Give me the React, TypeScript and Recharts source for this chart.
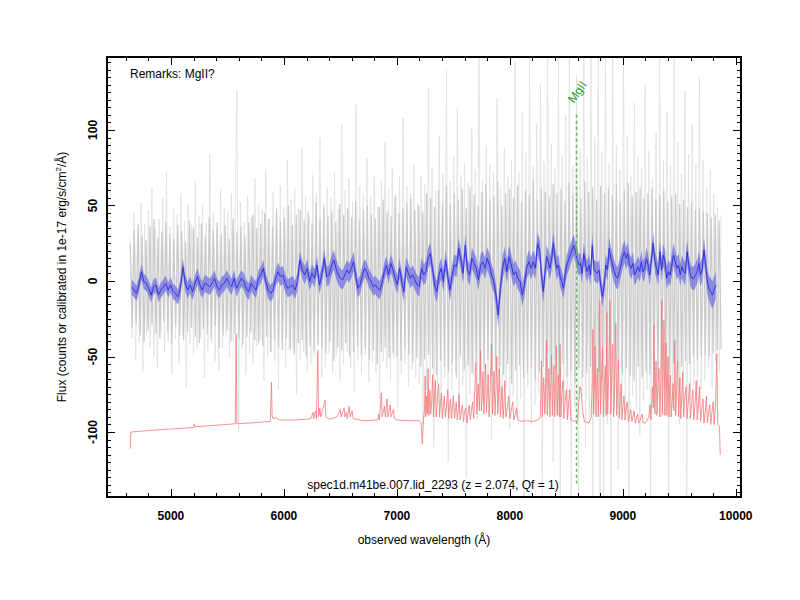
import React from "react";
import { ComposedChart, Line, Area, XAxis, YAxis, ReferenceLine } from "recharts";

const X_DOMAIN: [number, number] = [4434, 10046];
const Y_DOMAIN: [number, number] = [-143, 148.3];
const X_LABELS = [5000, 6000, 7000, 8000, 9000, 10000];
const Y_LABELS = [-100, -50, 0, 50, 100];
const MGII_WAVE = 8590;

// raw 1d flux, the faint outer grey, evenly sampled over RAW_RANGE
const RAW_RANGE = [4640, 9870];
const rawFlux = [
  28, -38, 45, -52, 33, -41, 52, -60, 38, -35, 47, -44, 62, -50, 35, -58, 41, -33, 55, -47,
  72, -40, 36, -62, 48, -39, 44, -55, 58, -36, 40, -70, 51, -42, 37, -49, 66, -45, 43, -38,
  50, -64, 39, -46, 84, -41, 45, -53, 36, -59, 61, -44, 48, -37,
  46, -51, 58, -40, 44, 126, -100, 52, -45, 39, -62, 57, -48, 42, -55, 68, -43, 50, -39, 47,
  -66, 74, -50, 41, -47, 59, -53, 45, -72, 63, -41, 49, -58, 80, -46, 54, -44, 61, -75, 48,
  -52, 88, -47, 56, -60, 43, -55, 70, -49, 58, -43, 95, -64, 51, -57, 62, -48,
  55, -61, 72, -50, 48, -66, 104, -55, 60, -47, 68, -58, 52, -73, 117, -52, 63, -62, 58, -49,
  81, -67, 56, -54, 70, -60, 49, -78, 66, -53, 92, -58, 61, -66, 74, -51, 57, -84, 69, -62,
  108, -55, 63, -70, 58, -59, 77, -64, 52, -68,
  70, -95, 64, -72, 128, -66, 75, -110, 60, -68, 96, -77, 71, -64, 140, -120, 66, -73, 82, -60,
  115, -88, 70, -69, 78, -130, 65, -75, 102, -63, 74, -92, 148, -70, 68, -80, 90, -66, 77, -105,
  72, -68, 121, -74, 63, -85, 88, -71, 69, -98,
  80, -76, 145, -90, 72, -78, 112, -143, 85, -70, 148, -95, 76, -82, 104, -74, 130, -143, 79, -88,
  148, -77, 91, -120, 75, -86, 148, -143, 83, -79, 110, -92, 148, -143, 77, -84, 136, -143, 88, -76,
  148, -110, 82, -90, 148, -143, 95, -78, 148, -143,
  86, -143, 148, -95, 78, -143, 148, -82, 90, -125, 74, -80, 148, -88, 96, -143, 70, -76, 118, -84,
  82, -102, 75, -79, 130, -72, 86, -143, 68, -81, 98, -77, 148, -90, 80, -70, 112, -143, 76, -84,
  148, -74, 92, -95, 71, -80, 126, -143, 84, -78, 104, -69, 77, -88, 135, -72, 80, -66, 62, -58,
  74, -70, 58, -55, 49, -60, 44,
];

// the denser mid-grey part of the spectrum, evenly sampled over RAW_RANGE
const coreFlux = [
  25, -31, 34, -28, 38, -36, 30, -40, 27, -33, 36, -29, 41, -35, 29, -38, 33, -27, 39, -34,
  31, -42, 28, -30, 37, -36, 33, -39, 26, -34, 40, -31, 35, -37, 29, -41, 38, -32, 30, -35,
  42, -38, 34, -30, 39, -44, 31, -36, 37, -33, 28, -40, 41, -35, 33, -38, 36, -42, 30, -37,
  39, -34, 44, -39, 35, -41,
  38, -43, 45, -37, 41, -47, 36, -40, 48, -44, 39, -46, 42, -38, 50, -45, 37, -49, 44, -41,
  47, -39, 40, -50, 46, -43, 38, -47, 52, -42, 41, -45, 49, -48, 43, -40, 46, -53, 39, -44,
  51, -46, 44, -41, 48, -50, 42, -47, 53, -43, 40, -49, 47, -45, 50, -52, 44, -46, 41, -55,
  49, -47, 54, -44, 46, -51, 43, -48, 56, -50, 45, -53, 48, -46, 52, -49, 55, -54, 47, -51,
  50, -57, 46, -52, 58, -49,
  55, -58, 49, -62, 60, -53, 52, -57, 63, -60, 51, -55, 58, -64, 54, -50, 61, -59, 48, -56,
  62, -61, 57, -54, 50, -66, 59, -58, 64, -52, 53, -63, 56, -60, 66, -57, 50, -62, 58, -55,
  61, -68, 55, -59, 63, -56, 52, -64, 60, -61, 57, -58, 67, -65, 54, -60, 62, -57, 59, -70,
  56, -62, 64, -59, 58, -66, 61, -55, 53, -63, 65, -60, 57, -68, 60, -58, 55, -64, 66, -61,
  59, -57, 62, -69, 54, -60, 63, -65, 58, -56, 61, -62, 57, -67, 64, -59, 52, -61, 60, -58,
  65, -63, 56, -66, 59, -57, 62, -64, 55, -60, 58, -62, 61, -59, 54, -65, 57, -58, 60, -56,
  53, -61, 56, -55, 58, -59, 51, -57, 54, -53, 49, -55, 52, -50, 47, -52, 48, -50, 46, -49,
  45, -50, 42, -48, 44, -46, 40, -45,
];

// smoothed flux (blue), three evenly sampled pieces
const blueA = [
  -3.8, -6, -8.2, -2.6, 6.2, -0.4, -1.5, -4.9, -9.3, -3.8,
  -2.6, -9.3, -6, -3.8, -1.5, -6, -2.6, -7, -8.2, -10.4,
  -4.9, 9.5, -1.5, -6, -2.6, -7, -1.5, 2.9, -2.6, -6,
  -1.5, -2.6, -3.8, -1.5, 1.8, -3.8, -6, -2.6, -1.5, 1.8,
  -1.5, -3.8, 1.8, -4.9, -1.5, 1.8, -0.4, -4.9, -7, -1.5,
  -3.8, -6, 1.8, 4, 8.4, -0.4, -6, -8.2, -6, 1.8,
  6.2, 2.9, 4, -1.5, -4.9, -3.8, -2.6, -6, -0.4, 13.9,
  7.3, 4, 8.4, -0.4, 5.1, 1.8, 10.6, -2.6, 4, 15,
  2.9, 4, 10.6,
];
const blueB = [
  13.9, 8.4, 4, 1.8, 0.7, 4, 7.3, 5.1, 8.4, 12.8,
  2.9, -4.9, -2.6, 4, 8.4, 6.2, 1.8, -0.4, -3.8, -2.6,
  -4.9, -6, -1.5, 6.2, 10.6, 4, 11.7, 7.3, 1.8, -2.6,
  8.4, -0.4, -7, 9.5, 5.1, 1.8, 4, 0.7, -2.6, -3.8,
  8.4, 4, 6.2, 15, 18.3, 8.4, -2.6, -7, 4, 8.4,
  -0.4, 13.9, 2.9, -6, 4, 10.6, 9.5, 21.6, 13.9, 5.1,
  23.8, 7.3, 4, 15, 11.7, 8.4, 0.7, 10.6, 12.8, 8.4,
  15, 10.6, 4, -0.4, -9.3, -22.5, -4.9, 8.4, 15, 6.2,
  16.1, 10.6, 4, 6.2, 1.8, -0.4, -9.3, -2.6, 8.4, 12.8,
  8.4, 12.8, 8.4, 24.9, 19.4,
];
const blueC = [
  4, -7, 4, 16.1, 12.8, 8.4, 15, 24.9, 15, 8.4,
  10.6, 2.9, -0.4, -4.9, 4, 10.6, 13.9, 17.2, 20.5, 23.8,
  19.4, 15, 10.6, 11.7, 5.1, 18.3, 10.6, 6.2, 10.6, 4,
  23.8, 7.3, 6.2, 5.1, 7.3, -2.6, -10.4, -3.8, 10.6, 7.3,
  21.6, 15, 10.6, 6.2, 2.9, 1.8, 6.2, 10.6, 16.1, 19.4,
  15, 18.3, 10.6, 8.4, 11.7, 4, 6.2, 9.5, 6.2, 12.8,
  6.2, 8.4, 15, 10.6, 4, 15, 24.9, 12.8, 8.4, 4,
  19.4, 7.3, 17.2, 12.8, 1.8, 6.2, 4, 10.6, 17.2, 12.8,
  8.4, 10.6, 4, 9.5, 6.2, 5.1, 19.4, 10.6, 4, 1.8,
  1.8, 4, 6.2, 11.7, 4, 8.4, 20.5, 10.6, -0.4, -4.9,
  -7, -9.3, -6, -2.6,
];
const blueRanges = [
  [4652, 6422],
  [6442, 8265],
  [8280, 9823],
];
// half width of the blue band, one value per 10 samples
const blueErrA = [5, 5, 5.5, 5.5, 5.5, 5.5, 6, 6, 6.5];
const blueErrB = [6.5, 6, 6, 6.5, 7, 7, 7, 7.5, 7.5, 7.5];
const blueErrC = [7.5, 7, 7, 7, 7.5, 7, 7, 7.5, 7.5, 8, 9];

// sky spectrum (red), shifted down, [wavelength, flux]
const sky: [number, number][] = [
  [4640, -111], [4645, -100], [4800, -99], [5000, -98], [5200, -97], [5206, -94.5], [5212, -96.5],
  [5400, -95.5], [5570, -94.5], [5577, -35], [5584, -94.5], [5700, -94], [5880, -93], [5890, -67],
  [5896, -89], [5902, -91], [5930, -90.5], [5960, -92], [6100, -92], [6200, -91.5],
  [6240, -91], [6257, -87], [6264, -91], [6280, -86], [6288, -91], [6300, -46], [6307, -90],
  [6318, -84], [6326, -90], [6364, -79], [6372, -90], [6400, -91.5], [6470, -90], [6498, -85],
  [6505, -90], [6533, -84], [6540, -90], [6553, -87], [6560, -91], [6577, -83], [6585, -90],
  [6604, -86], [6612, -91], [6700, -92.5],
  [6830, -92], [6840, -88], [6846, -92], [6863, -74], [6870, -90], [6890, -83], [6898, -90],
  [6912, -78], [6920, -90], [6940, -82], [6948, -90], [6970, -85], [6978, -91], [7000, -92],
  [7100, -92.5], [7200, -92.5], [7215, -94], [7225, -108], [7235, -92],
  [7245, -85], [7250, -63], [7256, -90], [7263, -76], [7270, -88], [7276, -58], [7283, -89],
  [7292, -72], [7300, -88], [7308, -80], [7316, -62], [7324, -90], [7332, -78], [7340, -66],
  [7348, -90], [7356, -82], [7363, -72], [7370, -68], [7378, -90], [7386, -80], [7395, -74],
  [7402, -91], [7411, -82], [7420, -76], [7428, -90], [7438, -84], [7450, -72], [7458, -91],
  [7466, -83], [7475, -78], [7483, -91], [7492, -84], [7500, -76], [7510, -91], [7518, -86],
  [7525, -80], [7535, -92], [7543, -85], [7550, -75], [7560, -92], [7570, -87], [7580, -82],
  [7590, -93], [7600, -86], [7610, -84], [7620, -94], [7630, -88], [7640, -82], [7650, -92],
  [7670, -80], [7680, -91], [7699, -54], [7707, -88], [7720, -68], [7730, -86], [7740, -46],
  [7748, -86], [7755, -78], [7762, -60], [7770, -88], [7778, -74], [7785, -55], [7793, -87],
  [7800, -76], [7808, -62], [7816, -90], [7826, -72], [7838, -42], [7846, -88], [7853, -76],
  [7860, -60], [7868, -89], [7876, -74], [7885, -50], [7893, -88], [7900, -76], [7908, -58],
  [7916, -90], [7923, -80], [7930, -70], [7940, -91], [7948, -82], [7955, -66], [7965, -90],
  [7978, -84], [7990, -76], [8000, -91], [8012, -86], [8025, -80], [8035, -92], [8060, -84],
  [8070, -92], [8100, -93], [8150, -92.5], [8200, -93], [8250, -92],
  [8270, -90], [8280, -53], [8288, -90], [8294, -74], [8300, -64], [8310, -88], [8317, -70],
  [8324, -39], [8332, -89], [8339, -74], [8346, -58], [8354, -90], [8361, -72], [8368, -49],
  [8376, -89], [8383, -70], [8390, -56], [8398, -90], [8405, -68], [8412, -43], [8420, -89],
  [8425, -74], [8430, -62], [8438, -90], [8444, -42], [8452, -90], [8460, -76], [8470, -66],
  [8478, -91], [8488, -80], [8500, -72], [8510, -92], [8520, -82], [8530, -72], [8540, -92],
  [8570, -93], [8600, -92], [8610, -80], [8620, -70], [8630, -72], [8645, -86], [8660, -93],
  [8700, -94],
  [8720, -90], [8728, -70], [8735, -32], [8742, -88], [8749, -68], [8755, -43], [8762, -90],
  [8768, -74], [8775, -58], [8782, -90], [8789, -66], [8796, -13], [8803, -88], [8811, -64],
  [8820, -44], [8828, -90], [8836, -70], [8845, -56], [8852, -89], [8858, -21], [8866, -88],
  [8875, -62], [8885, -13], [8893, -88], [8901, -66], [8910, -42], [8918, -90], [8928, -68],
  [8938, -28], [8946, -89], [8954, -70], [8962, -52], [8970, -91], [8978, -78], [8985, -68],
  [8993, -92], [9002, -82], [9010, -76], [9020, -92], [9030, -84], [9040, -80], [9050, -93],
  [9070, -85], [9080, -93], [9100, -86], [9110, -94], [9130, -88], [9140, -94], [9150, -93],
  [9170, -88], [9180, -94], [9200, -94],
  [9230, -90], [9240, -82], [9248, -92], [9262, -70], [9270, -84], [9276, -29], [9284, -88],
  [9294, -53], [9302, -89], [9311, -70], [9320, -58], [9328, -90], [9336, -66], [9345, -13],
  [9352, -88], [9364, -26], [9372, -89], [9382, -41], [9390, -89], [9400, -50], [9408, -90],
  [9414, -72], [9420, -62], [9428, -90], [9445, -68], [9452, -86], [9460, -39], [9468, -89],
  [9477, -70], [9485, -53], [9493, -90], [9500, -74], [9505, -64], [9513, -91], [9522, -76],
  [9530, -60], [9538, -90], [9548, -78], [9560, -70], [9568, -91], [9580, -80], [9590, -68],
  [9598, -91], [9610, -80], [9620, -72], [9628, -92], [9640, -80], [9650, -66], [9658, -92],
  [9670, -82], [9680, -70], [9688, -93], [9700, -84], [9710, -78], [9718, -94], [9730, -86],
  [9740, -76], [9748, -94], [9760, -86], [9770, -82], [9778, -95], [9790, -86], [9800, -80],
  [9808, -95], [9820, -84], [9832, -48], [9840, -95], [9855, -96], [9862, -115],
];

const gridW = (i: number, n: number) => RAW_RANGE[0] + (i * (RAW_RANGE[1] - RAW_RANGE[0])) / (n - 1);
const rawRows = rawFlux.map((v, i) => ({ w: gridW(i, rawFlux.length), v }));
const coreRows = coreFlux.map((v, i) => ({ w: gridW(i, coreFlux.length), v }));
const blueRows = [
  [blueA, blueErrA],
  [blueB, blueErrB],
  [blueC, blueErrC],
].flatMap(([vals, errs], s) => {
  const [a, b] = blueRanges[s];
  return vals.map((v, i) => {
    const e = errs[Math.floor(i / 10)];
    return { w: a + (i * (b - a)) / (vals.length - 1), v, band: [v - e, v + e] };
  });
});
const skyRows = sky.map(([w, v]) => ({ w, v }));

// chart box: margins + axis sizes
const MARGIN = { top: 57, right: 59, bottom: 73, left: 67 };
const X_AXIS_H = 30;
const Y_AXIS_W = 40;
const WIDTH = 800;
const HEIGHT = 600;
const PLOT = {
  left: MARGIN.left + Y_AXIS_W,
  right: WIDTH - MARGIN.right,
  top: MARGIN.top,
  bottom: HEIGHT - MARGIN.bottom - X_AXIS_H,
};
// same linear mapping as the chart's axes, for the inward tick marks
const px = (w: number) => PLOT.left + ((w - X_DOMAIN[0]) / (X_DOMAIN[1] - X_DOMAIN[0])) * (PLOT.right - PLOT.left);
const py = (f: number) => PLOT.bottom - ((f - Y_DOMAIN[0]) / (Y_DOMAIN[1] - Y_DOMAIN[0])) * (PLOT.bottom - PLOT.top);

// majors every 1000 A / 50, minors every 200 A / 5
const xTicks: number[] = [];
for (let w = 4600; w <= 10000; w += 200) xTicks.push(w);
const yTicks: number[] = [];
for (let f = -140; f <= 145; f += 5) yTicks.push(f);

const FONT = '"Liberation Sans", Arial, Helvetica, sans-serif';

const BottomLabel = ({ x, y, payload }: any) => (
  <text x={x} y={y + 23} textAnchor="middle" fontSize={12} fontWeight="bold" fill="#000" fontFamily={FONT}>
    {payload.value}
  </text>
);

const LeftLabel = ({ x, y, payload }: any) => {
  const tx = x - 9.5;
  return (
    <text
      x={tx}
      y={y}
      transform={`rotate(-90 ${tx} ${y})`}
      textAnchor="middle"
      fontSize={12}
      fontWeight="bold"
      fill="#000"
      fontFamily={FONT}
    >
      {payload.value}
    </text>
  );
};

const mgLabel = (props: any) => {
  const { x, y } = props.viewBox;
  const tx = x - 2.5;
  const ty = y - 11;
  return (
    <text x={tx} y={ty} transform={`rotate(-55 ${tx} ${ty})`} fontSize={12} fill="#1f9a1f" fontFamily={FONT}>
      MgII
    </text>
  );
};

const frame = { stroke: "#000", strokeWidth: 2 };

// small solid boxes for the frame and tick marks
const mark = (key: string, left: number, top: number, width: number, height: number) => (
  <div
    key={key}
    style={{ position: "absolute", left, top, width, height, background: "#000", pointerEvents: "none" }}
  />
);

export default function App() {
  const marks: React.ReactNode[] = [];
  xTicks.forEach((w) => {
    const len = w % 1000 === 0 ? 8 : 4;
    const x = Math.round(px(w)) - 0.5;
    marks.push(mark(`xb${w}`, x, PLOT.bottom - len, 1.5, len));
    marks.push(mark(`xt${w}`, x, PLOT.top, 1.5, len));
  });
  yTicks.forEach((f) => {
    const len = f % 50 === 0 ? 8 : 4;
    const y = Math.round(py(f)) - 0.5;
    marks.push(mark(`yl${f}`, PLOT.left, y, len, 1.5));
    marks.push(mark(`yr${f}`, PLOT.right - len, y, len, 1.5));
  });
  const fw = PLOT.right - PLOT.left;
  const fh = PLOT.bottom - PLOT.top;
  marks.push(mark("ft", PLOT.left - 1, PLOT.top - 1, fw + 2, 2));
  marks.push(mark("fb", PLOT.left - 1, PLOT.bottom - 1, fw + 2, 2));
  marks.push(mark("fl", PLOT.left - 1, PLOT.top - 1, 2, fh + 2));
  marks.push(mark("fr", PLOT.right - 1, PLOT.top - 1, 2, fh + 2));

  return (
    <div
      style={{
        position: "absolute",
        left: 0,
        top: 0,
        width: WIDTH,
        height: HEIGHT,
        background: "#fff",
        fontFamily: FONT,
      }}
    >
      <ComposedChart width={WIDTH} height={HEIGHT} margin={MARGIN}>
        <XAxis
          dataKey="w"
          type="number"
          domain={X_DOMAIN}
          ticks={X_LABELS}
          interval={0}
          allowDataOverflow
          height={X_AXIS_H}
          tickSize={0}
          tickMargin={0}
          tickLine={false}
          axisLine={frame}
          tick={<BottomLabel />}
        />
        <YAxis
          type="number"
          domain={Y_DOMAIN}
          ticks={Y_LABELS}
          interval={0}
          allowDataOverflow
          width={Y_AXIS_W}
          tickSize={0}
          tickMargin={0}
          tickLine={false}
          axisLine={frame}
          tick={<LeftLabel />}
        />
        <Line
          data={rawRows}
          dataKey="v"
          type="linear"
          stroke="#e0e0e0"
          strokeWidth={0.8}
          dot={false}
          activeDot={false}
          isAnimationActive={false}
        />
        <Line
          data={coreRows}
          dataKey="v"
          type="linear"
          stroke="#cacaca"
          strokeWidth={1.2}
          dot={false}
          activeDot={false}
          isAnimationActive={false}
        />
        <Line
          data={skyRows}
          dataKey="v"
          type="linear"
          stroke="#f27878"
          strokeWidth={0.8}
          dot={false}
          activeDot={false}
          isAnimationActive={false}
        />
        <Area
          data={blueRows}
          dataKey="band"
          type="linear"
          stroke="none"
          fill="#5a5ae4"
          fillOpacity={0.62}
          dot={false}
          activeDot={false}
          isAnimationActive={false}
          zIndex={450}
        />
        <Line
          data={blueRows}
          dataKey="v"
          type="linear"
          stroke="#3434dc"
          strokeWidth={1}
          dot={false}
          activeDot={false}
          isAnimationActive={false}
          zIndex={460}
        />
        <ReferenceLine
          segment={[
            { x: MGII_WAVE, y: 110 },
            { x: MGII_WAVE, y: -134 },
          ]}
          stroke="#5cb85c"
          strokeWidth={1.5}
          strokeDasharray="3 3"
          ifOverflow="visible"
          label={mgLabel}
          zIndex={470}
        />
      </ComposedChart>
      {marks}
      <svg
        width={WIDTH}
        height={HEIGHT}
        style={{ position: "absolute", left: 0, top: 0, pointerEvents: "none" }}
        fontFamily={FONT}
        fontSize={12}
      >
        <text x={130} y={78} fill="#000">
          Remarks: MgII?
        </text>
        <text x={433} y={489} textAnchor="middle" fill="#000">
          spec1d.m41be.007.lid_2293 (z = 2.074, Qf = 1)
        </text>
        <text x={424} y={544} textAnchor="middle" fill="#000">
          observed wavelength (Å)
        </text>
        <text x={66} y={277} transform="rotate(-90 66 277)" textAnchor="middle" fill="#000">
          Flux (counts or calibrated in 1e-17 erg/s/cm
          <tspan dy={-5} fontSize={8}>
            2
          </tspan>
          <tspan dy={5}>/Å)</tspan>
        </text>
      </svg>
    </div>
  );
}
